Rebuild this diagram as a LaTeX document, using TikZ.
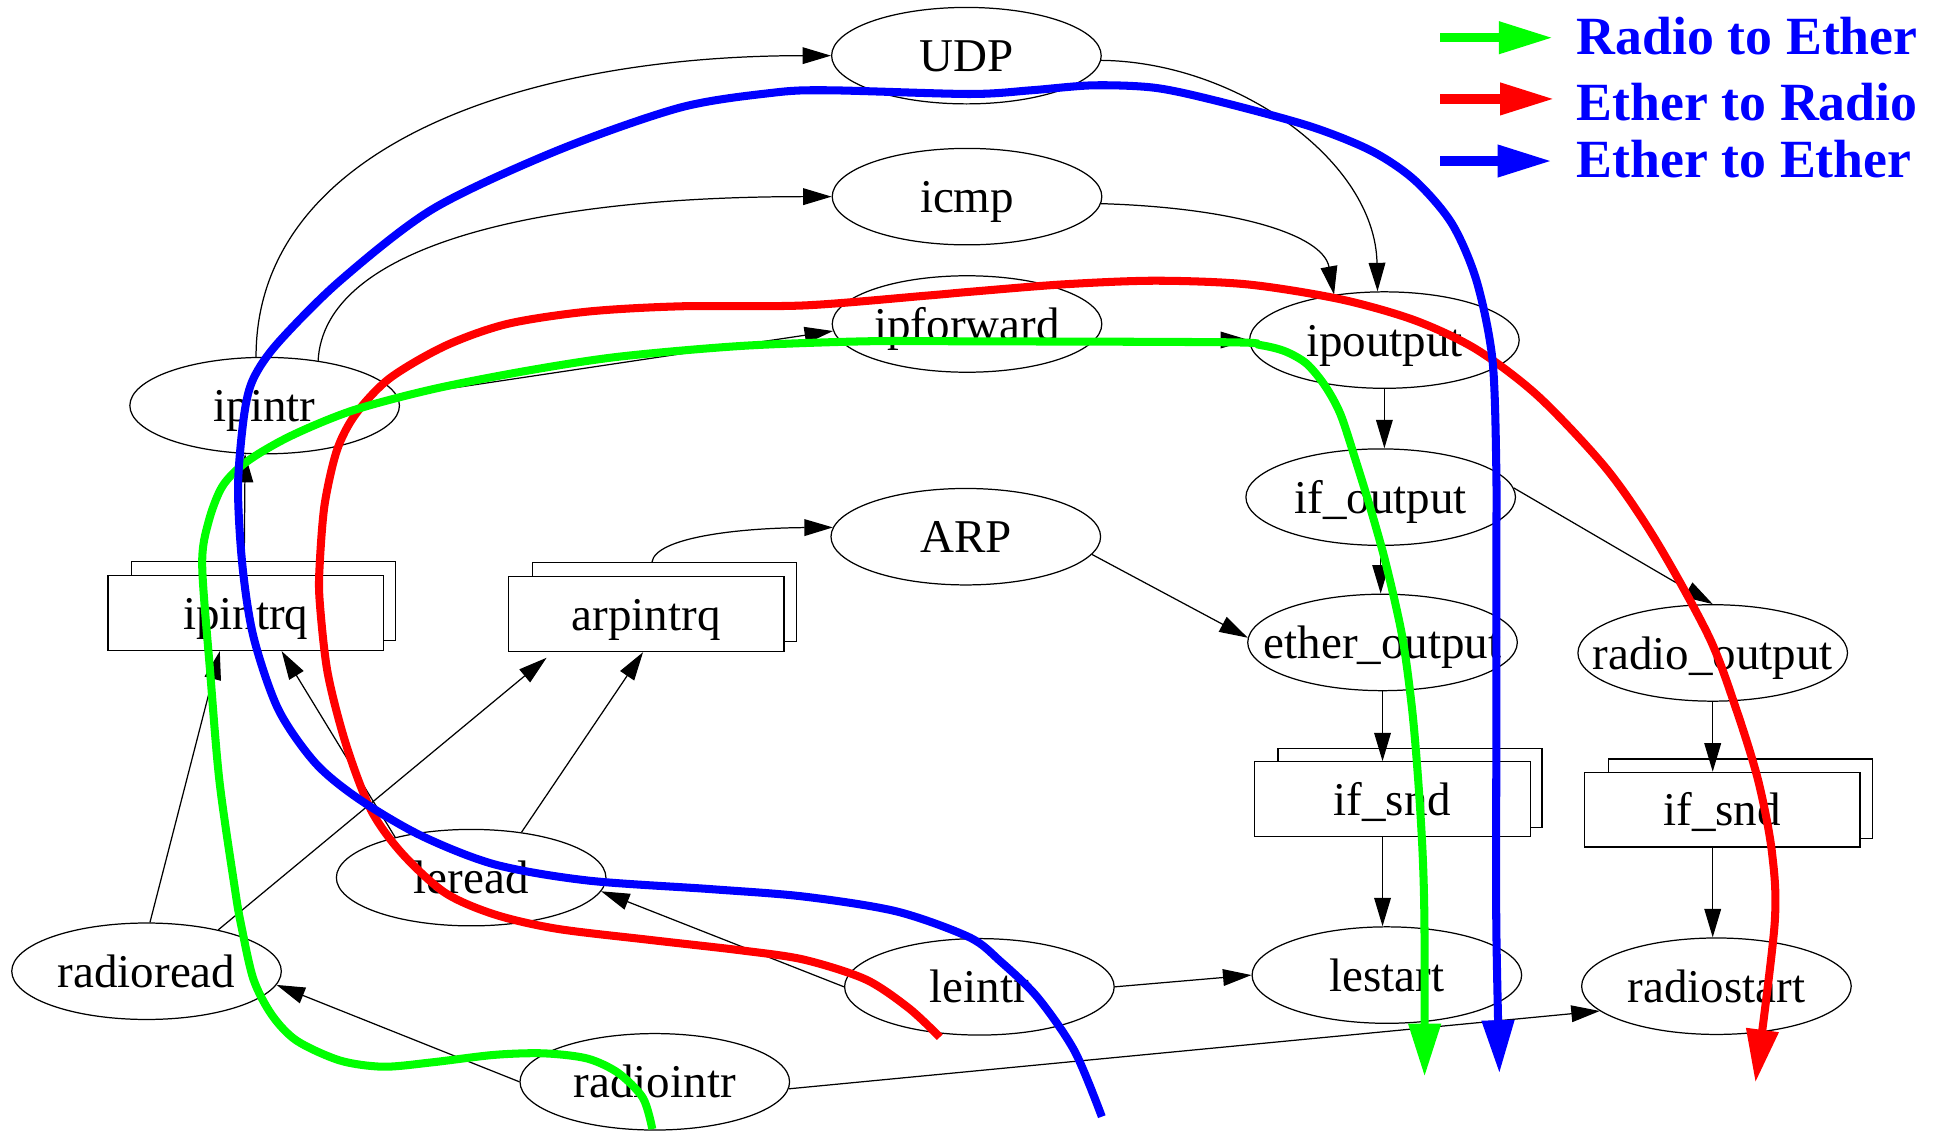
\documentclass[tikz,border=0pt]{standalone}
\usepackage{fontspec}
\setmainfont{Liberation Serif}
\usetikzlibrary{shapes.geometric,arrows.meta,calc}
\definecolor{pathgreen}{RGB}{0,255,0}
\definecolor{pathred}{RGB}{255,0,0}
\definecolor{pathblue}{RGB}{0,0,255}
% zero-width label so that the ellipse keeps its fixed size
\newcommand\plbl[1]{\makebox[0pt]{#1}}
\begin{document}
\begin{tikzpicture}[x=1pt,y=-1pt,
  proc/.style={ellipse, draw, line width=1pt, minimum width=218pt, minimum height=78pt,
    inner sep=0pt, font=\fontsize{38}{40}\selectfont, text height=26pt, text depth=0pt},
  queue/.style={rectangle, draw, line width=1pt, fill=white, minimum width=223pt,
    minimum height=60.5pt, inner sep=0pt, font=\fontsize{38}{40}\selectfont,
    text height=26pt, text depth=0pt},
  queueback/.style={rectangle, draw, line width=1pt, fill=white, minimum width=213.5pt,
    minimum height=64pt, inner sep=0pt},
  edge/.style={line width=1pt, -{Triangle[length=23pt,width=13.5pt]}},
  flow/.style={line width=6.5pt, -{Triangle[length=43pt,width=25pt]}},
  legendarrow/.style={line width=7.5pt, -{Triangle[length=44pt,width=24.5pt]}},
  legendtext/.style={anchor=base west, inner sep=0pt, text=pathblue,
    font=\fontsize{43.5}{45}\selectfont\bfseries}
]
\path[use as bounding box] (0,0) rectangle (1568,914);

% protocol routines
\node[proc] (UDP) at (781.5,45) {\plbl{UDP}};
\node[proc] (icmp) at (782,159) {\plbl{icmp}};
\node[proc] (ipforward) at (782,262) {\plbl{ipforward}};
\node[proc] (ipintr) at (214,328) {\plbl{ipintr}};
\node[proc] (ARP) at (781,434) {\plbl{ARP}};
\node[proc] (ipoutput) at (1119.5,275) {\plbl{ipoutput}};
\node[proc] (ifoutput) at (1116.5,402) {\plbl{if\_output}};
\node[proc] (etheroutput) at (1118,519.5) {\plbl{ether\_output}};
\node[proc] (radiooutput) at (1385,528) {\plbl{radio\_output}};
\node[proc] (lestart) at (1121.5,788.5) {\plbl{lestart}};
\node[proc] (radiostart) at (1388,797.5) {\plbl{radiostart}};
\node[proc] (leintr) at (792,798) {\plbl{leintr}};
\node[proc] (leread) at (381,709.7) {\plbl{leread}};
\node[proc] (radioread) at (118.5,785.4) {\plbl{radioread}};
\node[proc] (radiointr) at (529.5,874.8) {\plbl{radiointr}};

% queues (stacked boxes)
\node[queueback] (ipintrqB) at (213.25,486) {};
\node[queue] (ipintrq) at (198.75,495.8) {ipintrq};
\node[queueback] (arpintrqB) at (537.25,487) {};
\node[queue] (arpintrq) at (522.5,496.65) {arpintrq};
\node[queueback] (ifsndAB) at (1140.15,637.25) {};
\node[queue] (ifsndA) at (1125.9,646.3) {if\_snd};
\node[queueback] (ifsndBB) at (1407.4,645.75) {};
\node[queue] (ifsndB) at (1392.65,654.75) {if\_snd};

% call graph
\draw[edge] (ipintr.100) .. controls (207,120) and (420,45) .. (UDP.west);
\draw[edge] (ipintr.40) .. controls (262,200) and (430,159) .. (icmp.west);
\draw[edge] (ipintr.4) -- (ipforward.183);
\draw[edge] (UDP.358) .. controls (1000,50) and (1112,130) .. (ipoutput.98);
\draw[edge] (icmp.357) .. controls (1000,168) and (1070,190) .. (ipoutput.138);
\draw[edge] (ipforward.353) -- (ipoutput.west);
\draw[edge] (ipoutput.south) -- (ipoutput.south |- ifoutput.north);
\draw[edge] (ifoutput.south) -- (ifoutput.south |- etheroutput.north);
\draw[edge] (ifoutput.4) -- (radiooutput.north);
\draw[edge] (ARP.352) -- (etheroutput.178);
\draw[edge] ($(arpintrqB.north)+(-10,0)$) .. controls (530,435) and (595,427) .. (ARP.176);
\draw[edge] (etheroutput.south) -- (etheroutput.south |- ifsndA.north);
\draw[edge] (etheroutput.south |- ifsndA.south) -- (etheroutput.south |- lestart.north);
\draw[edge] (radiooutput.south) -- (radiooutput.south |- ifsndB.north);
\draw[edge] (radiooutput.south |- ifsndB.south) -- (radiooutput.south |- radiostart.north);
\draw[edge] (leintr.east) -- (lestart.west);
\draw[edge] (radiointr.357) -- (radiostart.192);
\draw[edge] (leintr.west) -- (leread.354);
\draw[edge] (leread.42) -- ($(arpintrq.south)+(-2.5,0)$);
\draw[edge] (leread.152) -- ($(ipintrq.south)+(29,0)$);
\draw[edge] (radioread.86) -- ($(ipintrq.south)+(-21,0)$);
\draw[edge] (radioread.30) -- ($(arpintrq.south west)+(31.5,4.5)$);
\draw[edge] (radiointr.west) -- (radioread.354);
\draw[edge] ($(ipintrqB.north)+(-15.75,0)$) -- (ipintr.248);

% packet flows
\coordinate (redStart) at (760,838.7);
\coordinate (redEnd) at (1419.5,875.5);
\draw[flow, pathred] plot[smooth] coordinates {(redStart) (735,815.3) (700,792) (650,776)
  (600,768.6) (525,760) (450,751) (400,739.5) (360,722) (325,690) (300,655) (280,602.6)
  (265,544.3) (258.5,486) (258.5,457) (262.5,408) (272.5,364) (287.5,335) (315,306)
  (360,279.7) (410,262) (475,252) (550,247.7) (650,247) (750,239) (784,236) (859,230)
  (934,227) (1009,230) (1084,242) (1144,259) (1194,282.6) (1244,320.5) (1299,379)
  (1339,437) (1382,515) (1404,573.5) (1421.9,631.7) (1433,690) (1435,748) (redEnd)};

\coordinate (greenStart) at (527.5,913);
\coordinate (greenEnd) at (1152,870.7);
\draw[flow, pathgreen] plot[smooth] coordinates {(greenStart) (520,888) (500,867.7)
  (475,856) (440,851.8) (400,853) (350,859) (310,862.6) (275,857.6) (240,841.6)
  (220,821) (205,792) (195,748) (190,719) (177.5,632) (170,544) (163.5,457)
  (168.5,422.5) (180,393) (200,373) (235,352.6) (285,332) (350,314.7) (425,300)
  (500,288.5) (600,279.7) (700,276) (784,276) (994,276.8) (1019,279) (1039,284)
  (1056.5,294) (1071.5,312) (1084,335) (1096.5,373) (1109,413.7) (1121,457)
  (1134,515) (1141.9,573.5) (1146.9,631.7) (1150.4,690) (1151.9,748.3) (greenEnd)};

\coordinate (blueStart) at (891,903);
\coordinate (blueEnd) at (1212.5,868);
\draw[flow, pathblue] plot[smooth] coordinates {(blueStart) (869,850) (839,806.5)
  (809,777.4) (784,758) (725,737) (650,725) (575,719) (475,712) (400,699) (340,675.5)
  (290,646) (255,617) (225,573.5) (205,515) (196,457) (192.5,393) (197.5,335) (205,306)
  (225,277) (275,227) (350,169) (450,122) (550,87) (625,75) (670,73) (784,76) (834,73)
  (884,69) (934,71) (984,81.6) (1059,102) (1109,122) (1144,145.7) (1174,180.7)
  (1194,227) (1206.9,291) (1210,379) (1210,457) (1210,600) (1210,748) (blueEnd)};

% legend
\coordinate (lgGreenS) at (1164.5,30.5);
\coordinate (lgGreenE) at (1256,30.5);
\coordinate (lgRedS) at (1164.5,80);
\coordinate (lgRedE) at (1257,80);
\coordinate (lgBlueS) at (1164.5,130.2);
\coordinate (lgBlueE) at (1255,130.2);
\draw[legendarrow, pathgreen] (lgGreenS) -- (lgGreenE);
\draw[legendarrow, pathred] (lgRedS) -- (lgRedE);
\draw[legendarrow, pathblue] (lgBlueS) -- (lgBlueE);
\node[legendtext] (lgGreenT) at (1275,43.7) {Radio to Ether};
\node[legendtext] (lgRedT) at (1275,97.6) {Ether to Radio};
\node[legendtext] (lgBlueT) at (1275,143.4) {Ether to Ether};
\end{tikzpicture}
\end{document}
